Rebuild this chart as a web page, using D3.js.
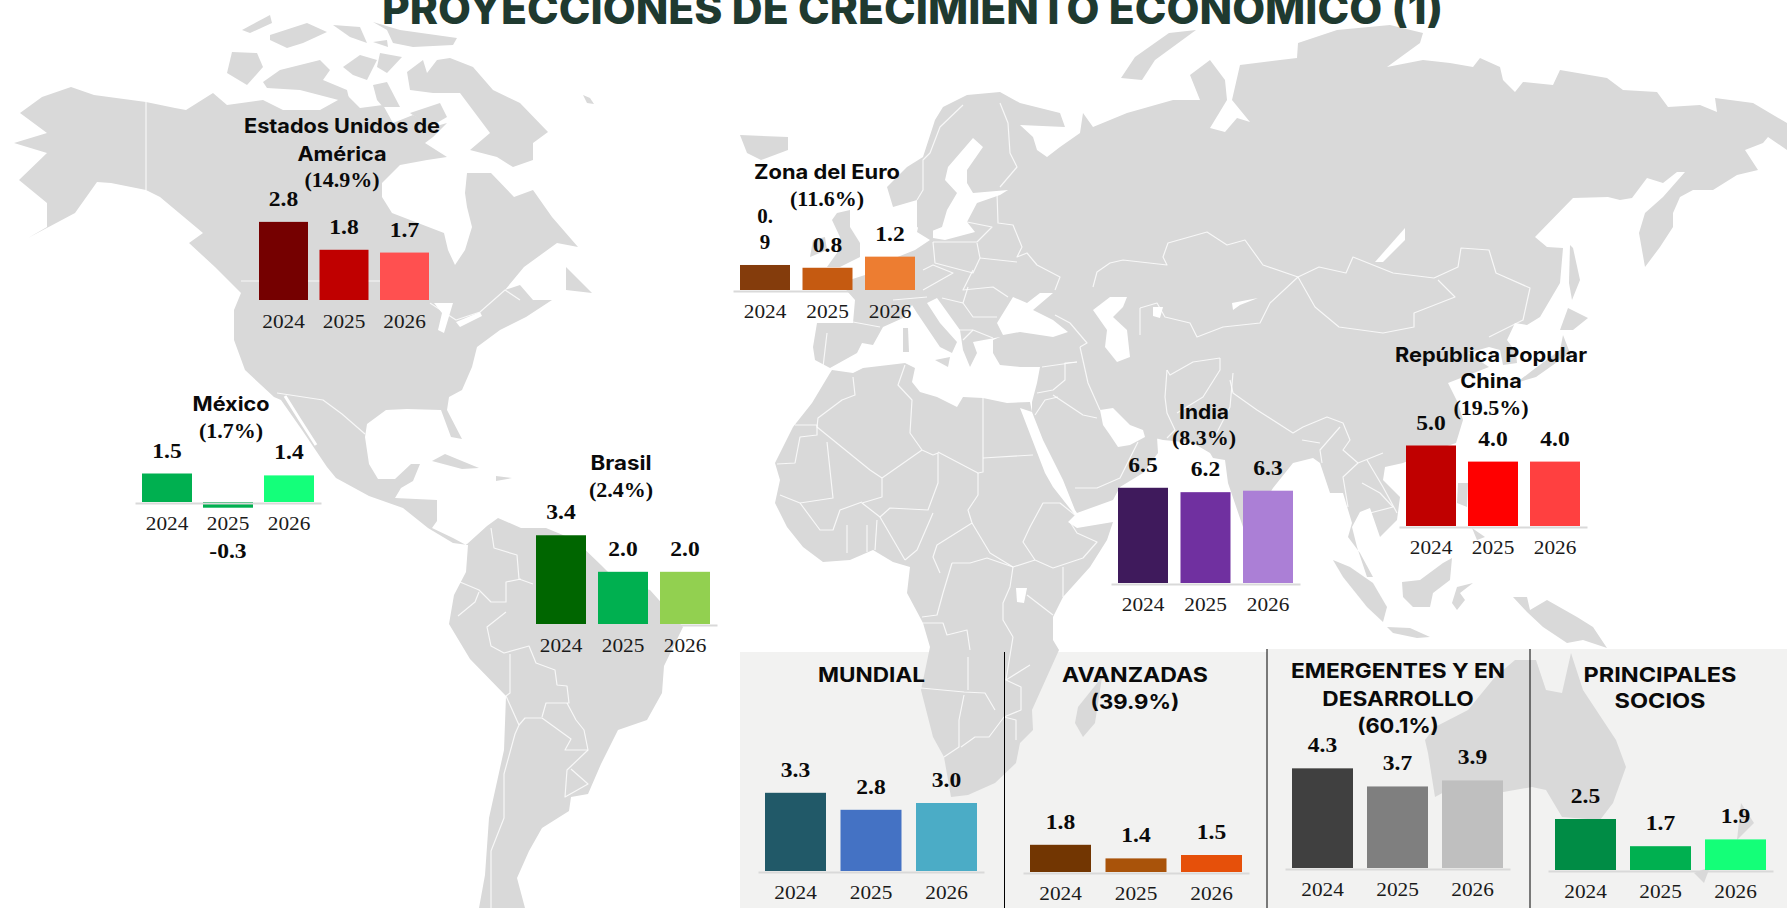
<!DOCTYPE html>
<html lang="es">
<head>
<meta charset="utf-8">
<script src="https://cdn.jsdelivr.net/npm/d3@7/dist/d3.min.js"></script>
<style>
html,body{margin:0;padding:0;background:#fff;overflow:hidden}
svg{display:block}
</style>
</head>
<body>
<svg id="chart" width="1787" height="908"></svg>
<script>
// ---------- chart data ----------
const years = ["2024","2025","2026"];
const mainTitle = "PROYECCIONES DE CRECIMIENTO ECONÓMICO (1)";

const usaValues = [2.8,1.8,1.7];
const euroValues = [0.9,0.8,1.2];
const mexicoValues = [1.5,-0.3,1.4];
const brasilValues = [3.4,2.0,2.0];
const indiaValues = [6.5,6.2,6.3];
const chinaValues = [5.0,4.0,4.0];
const mundialValues = [3.3,2.8,3.0];
const avanzadasValues = [1.8,1.4,1.5];
const emergentesValues = [4.3,3.7,3.9];
const sociosValues = [2.5,1.7,1.9];

const usaTitle = ["Estados Unidos de","América","(14.9%)"];
const euroTitle = ["Zona del Euro","(11.6%)"];
const mexicoTitle = ["México","(1.7%)"];
const brasilTitle = ["Brasil","(2.4%)"];
const indiaTitle = ["India","(8.3%)"];
const chinaTitle = ["República Popular","China","(19.5%)"];
const mundialTitle = ["MUNDIAL"];
const avanzadasTitle = ["AVANZADAS","(39.9%)"];
const emergentesTitle = ["EMERGENTES Y EN","DESARROLLO","(60.1%)"];
const sociosTitle = ["PRINCIPALES","SOCIOS"];

const usaColors = ["#750000","#c00000","#ff5050"];
const euroColors = ["#843c0c","#c55a11","#ed7d31"];
const mexicoColors = ["#00b050","#00b050","#14ff7a"];
const brasilColors = ["#006600","#00b050","#92d050"];
const indiaColors = ["#3f1a5c","#7030a0","#ab7fd6"];
const chinaColors = ["#c00000","#ff0000","#ff4040"];
const mundialColors = ["#215968","#4472c4","#4bacc6"];
const avanzadasColors = ["#723602","#a9530a","#e6500a"];
const emergentesColors = ["#404040","#7f7f7f","#bfbfbf"];
const sociosColors = ["#008c45","#00b050","#14ff78"];

// ---------- base map outlines (planar map units) ----------
const landOutlines = [
 // North America + Central America + South America
 [[20,113],[42,97],[71,87],[94,95],[146,102],[175,108],[186,110],[213,93],[227,105],[263,100],[283,110],[320,110],[347,95],[360,108],[383,105],[393,123],[413,115],[433,127],[447,123],[433,137],[425,143],[447,157],[427,160],[400,165],[382,183],[382,197],[392,213],[444,233],[448,250],[455,265],[465,250],[472,227],[467,207],[465,193],[467,173],[491,173],[514,197],[533,190],[552,217],[578,247],[557,243],[524,267],[505,290],[520,285],[533,300],[552,300],[526,317],[500,330],[477,347],[472,367],[462,390],[449,397],[447,410],[462,439],[451,437],[441,410],[407,409],[386,410],[367,424],[365,437],[369,464],[378,479],[395,479],[411,464],[420,464],[413,481],[401,488],[395,498],[437,500],[437,521],[432,528],[453,538],[466,545],[487,526],[498,518],[521,528],[546,528],[575,540],[601,565],[618,582],[650,590],[683,627],[664,666],[662,693],[647,720],[618,730],[601,764],[588,794],[571,797],[569,811],[542,828],[529,851],[517,878],[525,908],[479,908],[485,875],[489,818],[504,750],[506,696],[470,659],[449,624],[454,595],[466,572],[468,545],[453,543],[428,528],[403,508],[369,496],[336,478],[327,467],[302,430],[281,400],[274,397],[245,370],[234,340],[234,310],[241,293],[215,267],[189,243],[203,233],[160,197],[146,190],[111,183],[97,182],[75,213],[28,238],[47,227],[47,203],[19,180],[47,153],[14,143],[47,133]],
 // Arctic islands
 [[242,30],[270,15],[272,23],[250,33]],
 [[270,35],[307,23],[327,32],[303,43],[287,48],[270,40]],
 [[333,25],[360,27],[367,43],[350,37]],
 [[373,22],[400,30],[457,38],[453,45],[413,47],[393,43],[387,30]],
 [[373,42],[387,40],[388,47]],
 [[232,52],[257,53],[263,67],[247,85],[227,73]],
 [[263,82],[280,70],[320,60],[330,70],[323,80],[347,90],[350,103],[300,90],[267,88]],
 [[343,67],[360,55],[377,60],[367,80],[353,75]],
 [[380,53],[402,57],[387,73],[377,67]],
 [[373,85],[387,82],[400,107],[383,107],[377,100]],
 [[410,113],[440,103],[447,117],[430,127]],
 [[407,72],[423,60],[427,73],[437,60],[450,58],[473,67],[493,90],[520,103],[548,132],[533,143],[533,160],[513,167],[497,157],[470,150],[490,133],[460,93],[433,93],[410,90]],
 [[566,267],[592,293],[566,290]],
 [[583,95],[590,98],[594,104],[587,103]],
 // Caribbean
 [[432,461],[445,454],[479,468],[462,469]],
 [[496,476],[512,478],[496,481]],
 // Iceland, UK, Ireland, Med islands
 [[740,135],[788,137],[788,150],[761,160],[747,153]],
 [[837,213],[850,210],[850,227],[860,243],[860,257],[840,267],[827,267],[837,253],[840,237],[832,220]],
 [[813,240],[825,237],[827,250],[810,257]],
 [[903,328],[908,328],[909,352],[903,352]],
 [[935,360],[950,357],[948,367]],
 // Africa
 [[832,370],[853,373],[863,368],[897,364],[905,363],[915,368],[912,382],[920,392],[937,397],[957,407],[963,397],[983,398],[1007,403],[1030,402],[1032,412],[1020,408],[1035,447],[1045,473],[1053,487],[1075,515],[1068,522],[1077,528],[1113,522],[1107,540],[1090,567],[1063,597],[1053,617],[1053,640],[1059,650],[1032,710],[1033,730],[1020,743],[1016,763],[995,783],[968,795],[951,797],[944,757],[933,737],[921,690],[930,647],[923,623],[907,593],[910,567],[893,562],[873,550],[850,560],[823,562],[803,547],[787,527],[775,503],[780,480],[775,463],[793,427],[812,403],[830,373]],
 [[1102,677],[1078,707],[1075,723],[1083,737],[1095,723]],
 // Eurasia
 [[817,323],[853,323],[855,300],[840,283],[865,275],[885,262],[915,250],[930,240],[917,232],[921,215],[933,217],[933,238],[945,240],[975,232],[967,222],[977,203],[1000,195],[1008,190],[973,193],[967,183],[967,170],[983,147],[973,138],[948,167],[945,180],[957,193],[947,210],[942,227],[927,233],[917,227],[917,200],[893,207],[887,187],[907,167],[923,157],[935,120],[943,107],[967,95],[1000,92],[1020,103],[1060,113],[1065,127],[1020,125],[1033,137],[1037,150],[1047,157],[1060,147],[1080,133],[1083,113],[1093,127],[1127,113],[1173,100],[1200,100],[1190,75],[1210,60],[1225,80],[1227,100],[1210,128],[1225,132],[1237,118],[1250,122],[1232,100],[1240,65],[1280,60],[1297,58],[1298,43],[1337,30],[1390,25],[1423,33],[1420,43],[1387,67],[1423,60],[1450,63],[1473,67],[1480,58],[1500,67],[1503,80],[1515,92],[1523,82],[1553,85],[1560,70],[1607,78],[1623,90],[1657,92],[1668,107],[1700,105],[1717,112],[1715,98],[1753,103],[1787,123],[1787,150],[1768,137],[1763,143],[1745,150],[1758,170],[1737,175],[1713,190],[1693,190],[1680,197],[1673,213],[1673,227],[1660,247],[1645,267],[1639,233],[1645,213],[1663,197],[1685,172],[1677,172],[1663,183],[1647,178],[1632,198],[1620,200],[1608,197],[1573,198],[1535,237],[1547,247],[1563,248],[1560,283],[1540,317],[1527,325],[1515,323],[1507,340],[1516,352],[1517,363],[1503,365],[1500,350],[1489,347],[1468,353],[1489,367],[1448,383],[1458,403],[1463,420],[1456,443],[1427,453],[1403,463],[1385,467],[1383,480],[1400,497],[1397,520],[1380,537],[1370,508],[1360,512],[1352,527],[1357,547],[1367,577],[1373,577],[1360,553],[1348,537],[1352,523],[1343,493],[1330,493],[1320,463],[1313,458],[1293,463],[1273,488],[1250,527],[1243,527],[1228,483],[1225,460],[1213,458],[1210,453],[1193,443],[1163,440],[1143,435],[1157,437],[1158,453],[1143,473],[1120,487],[1113,500],[1077,513],[1075,510],[1063,480],[1053,460],[1043,440],[1032,412],[1032,402],[1037,383],[1040,367],[1020,367],[1000,365],[993,353],[993,340],[1000,337],[973,342],[977,353],[970,367],[963,350],[960,330],[937,298],[927,303],[940,323],[957,342],[952,353],[940,347],[917,313],[912,305],[903,318],[883,327],[873,345],[862,343],[857,353],[830,368],[815,360],[813,347]],
 [[1169,33],[1135,57],[1121,78],[1142,80],[1155,60],[1196,30]],
 // Sakhalin, Japan
 [[1570,245],[1573,248],[1580,280],[1572,300],[1569,283]],
 [[1563,335],[1570,353],[1536,377],[1516,383],[1533,370],[1560,350]],
 [[1568,308],[1588,318],[1573,330],[1560,330]],
 // South-East Asia
 [[1333,560],[1350,567],[1373,583],[1387,607],[1383,622],[1367,607],[1343,577]],
 [[1387,627],[1410,628],[1430,637],[1417,638],[1393,633]],
 [[1402,582],[1420,580],[1443,563],[1452,558],[1450,580],[1433,593],[1430,607],[1413,607],[1403,597]],
 [[1457,587],[1473,583],[1460,593],[1465,600],[1457,610],[1452,603]],
 [[1458,483],[1468,483],[1467,507],[1457,503]],
 [[1472,528],[1485,537],[1477,540]],
 [[1513,597],[1527,597],[1530,610],[1547,600],[1577,617],[1593,627],[1607,648],[1583,640],[1567,643],[1543,627],[1527,612]],
 // Australia, New Zealand
 [[1425,740],[1435,727],[1468,710],[1495,677],[1515,660],[1536,660],[1546,690],[1562,693],[1571,653],[1583,690],[1616,740],[1626,767],[1613,803],[1600,820],[1562,817],[1546,790],[1532,787],[1475,797],[1448,790],[1435,797],[1428,753]],
 [[1741,803],[1754,823],[1737,840]],
 [[1694,873],[1710,867],[1704,883]]
];

const waterOutlines = [
 // Black Sea
 [[997,323],[1013,297],[1027,303],[1040,293],[1053,293],[1033,310],[1053,320],[1068,332],[1053,337],[1020,332],[1003,335]],
 // Caspian
 [[1093,310],[1110,297],[1127,297],[1123,307],[1113,317],[1127,330],[1130,357],[1117,362],[1105,347],[1107,330]],
 // Persian Gulf
 [[1100,410],[1113,408],[1130,425],[1143,430],[1145,437],[1130,445],[1118,447],[1110,435],[1103,425]],
 // Aral, Balkhash, Baikal, Victoria, Great Lakes
 [[1153,307],[1163,307],[1160,318],[1153,316]],
 [[1232,303],[1258,298],[1240,305],[1233,310]],
 [[1405,228],[1375,262],[1383,262],[1405,240]],
 [[1016,588],[1027,588],[1024,603],[1017,602]],
 [[434,303],[453,303],[444,333],[438,330],[442,313]],
 [[456,322],[480,312],[482,316],[460,327]]
];

const borderLines = [
 [[146,102],[146,190]],[[241,281],[380,281]],[[430,303],[456,320],[480,312],[505,290],[520,300]],
 [[277,393],[323,400],[342,414],[365,434]],
 // South America
 [[491,528],[494,548],[517,555],[519,579],[533,584]],[[460,582],[479,590],[491,602],[506,602],[506,582],[521,579]],[[479,592],[475,602],[458,616]],[[506,612],[487,627],[491,646],[504,653],[529,646],[536,663],[555,670],[557,685],[567,686],[569,703],[546,703],[542,717]],[[510,654],[510,693],[506,696],[519,725],[515,734],[504,774],[504,818],[491,851],[491,908]],[[519,725],[525,718],[542,718],[571,739],[565,750],[588,750],[584,730],[576,720],[567,703]],[[588,750],[567,770],[565,797],[588,784],[571,769]],
 // Africa
 [[853,377],[855,395],[842,400],[818,418],[817,427],[870,470],[882,478]],[[795,425],[817,425],[817,435],[800,437],[795,463],[777,464]],[[827,442],[833,498],[800,503],[780,495]],[[905,365],[898,385],[912,400],[910,433],[922,450],[933,455],[938,453],[938,483],[928,510],[890,508],[880,517],[862,503],[882,497],[882,478],[922,450]],[[938,452],[978,473],[983,472],[983,398]],[[983,458],[1033,455]],[[978,473],[978,495],[968,510],[972,523],[937,545],[933,557],[940,573]],[[933,513],[917,550],[905,560]],[[972,523],[990,553],[1013,567],[1035,560]],[[1075,515],[1060,503],[1043,503],[1030,527],[1023,542],[1035,560],[1053,568],[1083,558],[1097,542],[1077,533],[1070,522]],[[1063,567],[1063,597]],[[1027,595],[1053,615]],[[952,563],[970,563],[987,558],[1013,567],[1010,587],[1003,603],[1003,620],[1013,637]],[[952,563],[943,593],[937,615],[922,617]],[[923,623],[943,623],[947,635],[967,630],[970,650]],[[800,503],[820,530],[833,530],[840,510],[862,502]],[[847,525],[847,553]],[[867,525],[867,552]],[[877,520],[875,550]],[[880,517],[905,560]],
 [[921,688],[964,692],[985,693],[995,710]],[[968,657],[968,690]],[[964,695],[959,720],[959,747],[944,757]],[[961,747],[975,737],[989,737],[1004,717],[1016,720],[1016,740]],[[1004,717],[1021,710],[1021,687],[1006,680],[1030,665]],[[1013,637],[1006,680]],
 // Asia
 [[1093,287],[1097,272],[1110,263],[1123,260],[1167,265],[1163,257],[1168,243],[1207,232],[1227,245],[1245,240],[1263,265],[1298,277]],
 [[1140,308],[1140,335]],[[1140,308],[1157,303],[1165,317],[1190,323],[1197,337],[1223,327],[1260,323],[1270,303],[1298,277]],
 [[1298,277],[1319,267],[1346,273],[1353,257],[1393,273],[1434,278],[1458,267],[1461,248],[1489,250],[1496,273],[1530,288],[1523,320],[1489,337]],
 [[1298,277],[1315,307],[1339,327],[1383,333],[1414,327],[1414,313],[1455,297],[1438,280]],
 [[1080,347],[1088,383],[1100,410]],[[1167,370],[1165,397],[1167,413],[1175,430],[1167,438]],[[1167,370],[1170,375],[1193,362],[1220,358]],[[1220,358],[1220,370],[1203,397],[1177,413]],[[1233,373],[1230,407],[1213,440]],
 [[1230,380],[1233,393],[1257,410],[1293,433],[1303,427],[1327,417],[1343,423],[1350,440],[1343,450],[1358,463],[1383,453]],[[1340,427],[1320,450],[1322,463]],[[1302,440],[1320,443]],
 [[1358,463],[1343,477],[1348,507]],[[1362,483],[1380,493],[1393,507],[1370,513],[1373,527]],[[1367,460],[1383,487],[1397,513]],
 [[1077,362],[1042,367]],[[1077,362],[1065,363],[1065,380],[1053,390],[1037,393]],[[1053,395],[1083,415],[1097,418]],[[1035,415],[1045,400],[1058,397]],[[1075,488],[1097,488],[1120,478],[1138,442]],[[1070,323],[1087,343],[1080,347]],
 // Europe
 [[963,105],[940,127],[930,153],[923,160],[923,190],[917,200]],[[1000,103],[1008,123],[1010,153],[1017,167],[1000,187]],[[997,193],[998,223],[1013,225],[1022,247],[1017,257],[1027,253],[1037,265],[1060,277],[1055,290]],[[967,222],[992,227],[977,242],[933,242]],[[933,242],[935,263],[973,273],[980,258],[977,243]],[[980,258],[1017,262]],[[973,270],[963,290],[993,287],[1008,297]],[[923,270],[933,265],[953,273],[923,290]],[[968,287],[963,303],[973,317],[997,317]],[[942,298],[963,303]],[[940,310],[957,330],[973,330],[993,338]],[[963,340],[973,330]],[[853,322],[880,327]],[[827,333],[823,367]],[[893,300],[927,297]],[[1070,323],[1055,315]]
];

// ---------- layout of the small charts (bar span, base line, scale) ----------
const chartLayouts = [
 {values:usaValues,title:usaTitle,colors:usaColors,x0:259,x1:429,bw:49,base:300,unit:27.9,from:0,tx:342,ty:[133,161,187],w:196},
 {values:euroValues,title:euroTitle,colors:euroColors,x0:740,x1:915,bw:50,base:290,unit:27.8,from:0,tx:827,ty:[179,206],w:146,wrap:true},
 {values:mexicoValues,title:mexicoTitle,colors:mexicoColors,x0:142,x1:314,bw:50,base:502,unit:19,from:0,tx:231,ty:[411,438],w:77},
 {values:brasilValues,title:brasilTitle,colors:brasilColors,x0:536,x1:710,bw:50,base:624,unit:26.1,from:0,tx:621,ty:[470,497],w:61},
 {values:indiaValues,title:indiaTitle,colors:indiaColors,x0:1118,x1:1293,bw:50,base:583,unit:14.65,from:0,tx:1204,ty:[419,445],w:50},
 {values:chinaValues,title:chinaTitle,colors:chinaColors,x0:1406,x1:1580,bw:50,base:526,unit:16.1,from:0,tx:1491,ty:[362,388,415],w:192},
 {values:mundialValues,title:mundialTitle,colors:mundialColors,x0:765,x1:977,bw:61,base:871,unit:34,from:1,tx:871.5,ty:[682],w:107,panel:true},
 {values:avanzadasValues,title:avanzadasTitle,colors:avanzadasColors,x0:1030,x1:1242,bw:61,base:872,unit:34,from:1,tx:1135,ty:[682,709],w:146,panel:true},
 {values:emergentesValues,title:emergentesTitle,colors:emergentesColors,x0:1292,x1:1503,bw:61,base:868,unit:30.2,from:1,tx:1398,ty:[678,706,733],w:214,panel:true},
 {values:sociosValues,title:sociosTitle,colors:sociosColors,x0:1555,x1:1766,bw:61,base:870,unit:34,from:1,tx:1660,ty:[682,708],w:153,panel:true}
];

const SANS = "Inter, 'Liberation Sans', sans-serif";
const SERIF = "'Liberation Serif', serif";
const svg = d3.select("#chart");

function stretch(sel, k){
  sel.each(function(){
    const n = this.getComputedTextLength();
    d3.select(this).attr("textLength", n*k).attr("lengthAdjust","spacingAndGlyphs");
  });
}

// panel backgrounds
svg.append("g").selectAll("rect")
  .data([[740,652,527,256],[1267,649,520,259]])
  .join("rect")
  .attr("x",d=>d[0]).attr("y",d=>d[1]).attr("width",d=>d[2]).attr("height",d=>d[3])
  .attr("fill","#f2f2f1");

// base map
const mapPath = d3.geoPath(d3.geoIdentity());
const map = svg.append("g");
map.selectAll("path.land")
  .data(landOutlines.map(c=>({type:"Polygon",coordinates:[c.concat([c[0]])]})))
  .join("path").attr("class","land").attr("d",mapPath).attr("fill","#d9d9d9");
map.selectAll("path.water")
  .data(waterOutlines.map(c=>({type:"Polygon",coordinates:[c.concat([c[0]])]})))
  .join("path").attr("class","water").attr("d",mapPath).attr("fill","#fff");
map.selectAll("path.border")
  .data(borderLines.map(c=>({type:"LineString",coordinates:c})))
  .join("path").attr("class","border").attr("d",mapPath)
  .attr("fill","none").attr("stroke","#fff").attr("stroke-opacity",.8)
  .attr("stroke-width",1.2).attr("stroke-linejoin","round");
map.append("path").attr("d",mapPath({type:"LineString",coordinates:[[285,396],[300,420],[316,445]]}))
  .attr("fill","none").attr("stroke","#fff").attr("stroke-width",3);

// panel separators
svg.append("g").selectAll("line")
  .data([[1004.5,652],[1267,649],[1530,649]])
  .join("line")
  .attr("x1",d=>d[0]).attr("x2",d=>d[0]).attr("y1",d=>d[1]).attr("y2",908)
  .attr("stroke","#000").attr("stroke-width",1);

// main title
svg.append("text").text(mainTitle)
  .attr("x",382).attr("y",24)
  .attr("font-family",SANS).attr("font-weight",800).attr("font-size",42)
  .attr("fill","#1f3a30")
  .attr("textLength",1061).attr("lengthAdjust","spacingAndGlyphs");

// small charts
chartLayouts.forEach(c=>{
  const g = svg.append("g");
  const step = (c.x1-c.x0-c.bw)/2;
  const x = d3.scaleBand().domain(years)
     .range([c.x0-7,c.x1+7])
     .paddingInner(1-c.bw/step)
     .paddingOuter(7/step);
  const y = d3.scaleLinear().domain([c.from,c.from+1]).range([c.base,c.base-c.unit]);
  const rows = years.map((yr,i)=>({yr,v:c.values[i],col:c.colors[i]}));

  g.selectAll("rect").data(rows).join("rect")
    .attr("x",d=>x(d.yr)).attr("width",x.bandwidth())
    .attr("y",d=>Math.min(y(d.v),y(c.from)))
    .attr("height",d=>Math.abs(y(d.v)-y(c.from)))
    .attr("fill",d=>d.col);

  const ax = g.append("g").attr("transform",`translate(0,${c.base+1})`)
    .call(d3.axisBottom(x).tickSize(0).tickSizeOuter(0));
  ax.select(".domain").attr("stroke","#d9d9d9").attr("stroke-width",2);
  const yrs = ax.selectAll("text")
    .attr("y",27).attr("dy",0)
    .attr("font-family",SERIF).attr("font-size",19).attr("fill","#1a1a1a");
  stretch(yrs,1.12);

  const labels = g.selectAll("text.val").data(rows).join("text").attr("class","val")
    .attr("x",d=>x(d.yr)+x.bandwidth()/2)
    .attr("y",d=>d.v<0 ? y(0)+56 : y(d.v)-16)
    .attr("text-anchor","middle")
    .attr("font-family",SERIF).attr("font-weight",700).attr("font-size",21).attr("fill","#0a0a0a")
    .text(d=>d.v.toFixed(1));
  if(c.wrap){
    labels.filter((d,i)=>i===0).each(function(d){
      const s = d3.select(this), tx = s.attr("x"), ty = +s.attr("y");
      const parts = [d.v.toFixed(1).slice(0,2), d.v.toFixed(1).slice(2)];
      s.text(null);
      parts.forEach((p,i)=>s.append("tspan").attr("x",tx).attr("y",ty-26+i*26).text(p));
    });
  }
  stretch(labels.filter(function(){return !this.querySelector("tspan");}),1.12);

  // chart title: share lines in the outer charts are serif, panel titles stay sans bold
  const isShare = d=>d.startsWith("(");
  const tl = g.selectAll("text.ttl").data(c.title).join("text").attr("class","ttl")
    .attr("x",c.tx).attr("y",(d,i)=>c.ty[i])
    .attr("text-anchor","middle")
    .attr("font-family",d=>isShare(d)&&!c.panel?SERIF:SANS)
    .attr("font-size",d=>isShare(d)&&!c.panel?22:20)
    .attr("font-weight",700)
    .attr("fill","#0a0a0a")
    .text(d=>d);
  const k = c.w/tl.nodes()[0].getComputedTextLength();
  tl.each(function(d){
    const n = this.getComputedTextLength();
    const f = isShare(d) ? (c.panel ? k*0.96 : 1.0) : k;
    d3.select(this).attr("textLength",n*f).attr("lengthAdjust","spacingAndGlyphs");
  });
});
</script>
</body>
</html>
